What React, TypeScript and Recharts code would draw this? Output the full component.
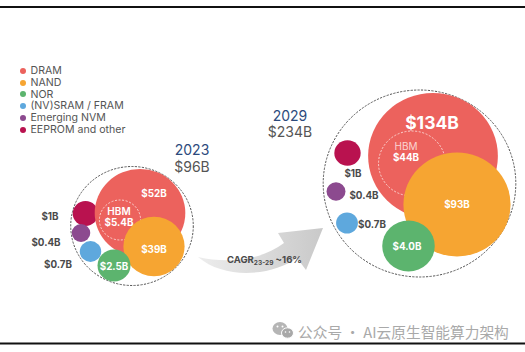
import React from "react";
import { ScatterChart, Scatter, XAxis, YAxis, ZAxis, Legend, ReferenceLine, Customized } from "recharts";

const WIDTH = 525;
const HEIGHT = 352;
const FONT = "Inter, 'Open Sans', sans-serif";

// Categories and values ($B): [2023, 2029]
const categories = ["DRAM", "NAND", "NOR", "(NV)SRAM / FRAM", "Emerging NVM", "EEPROM and other"];
const years = ["2023", "2029"];
const totals = ["$96B", "$234B"];
const dramValues = [52, 134];
const nandValues = [39, 93];
const norValues = [2.5, 4.0];
const sramValues = [0.7, 0.7];
const emergingValues = [0.4, 0.4];
const eepromValues = [1, 1];
const hbmValues = [5.4, 44];
const cagrLabel = "CAGR";
const cagrPeriod = "23-29";
const cagrValue = " ~16%";
const watermark = "公众号 · AI云原生智能算力架构";

// Colours
const colors = ["#ec625d", "#f6a532", "#5cb46e", "#5ea8dd", "#8c4a8f", "#b9124f"];

// Bubble-pack layout, in chart units, kept apart from the values: [x, y, bubble radius] per year
const outerPack = [[132, 226, 59.5], [419.5, 183.5, 93.5]];
const dramPack = [[140, 213, 44], [433, 156, 63]];
const hbmPack = [[120, 220, 20], [412, 163.5, 32.5]];
const nandPack = [[154, 246.5, 29.7], [457, 204.5, 52]];
const norPack = [[114, 265.5, 16], [408.5, 246, 25.5]];
const sramPack = [[90.5, 251.5, 10.4], [347, 223, 10.6]];
const emergingPack = [[81, 233, 9], [336, 191.5, 9.2]];
const eepromPack = [[85.5, 213.5, 12.4], [347.5, 153, 12.8]];

const toPoints = (pack: number[][], values?: number[]) =>
  pack.map(([x, y, r], i) => ({ x, y, z: r * r, value: values ? values[i] : undefined }));

const money = (v: number, digits = 0) => `$${v.toFixed(digits)}B`;

// Label anchors
const labelPoints = (
  items: [string, number, number][]
) => items.map(([text, x, y]) => ({ x, y, z: 1, text }));

const whiteLabels = labelPoints([
  [money(dramValues[0]), 154, 193],
  [money(hbmValues[0], 1), 119, 222.5],
  [money(nandValues[0]), 154, 249],
  [money(norValues[0], 1), 114, 266],
  [money(hbmValues[1]), 406, 157.5],
  [money(nandValues[1]), 457, 204.5],
  [money(norValues[1], 1), 407, 246.5],
]);
const hbmWhite = labelPoints([["HBM", 119, 210.5]]);
const hbmSoft = labelPoints([["HBM", 406, 146]]);
const bigLabel = labelPoints([[money(dramValues[1]), 432, 122]]);
const darkLabels = labelPoints([
  [money(eepromValues[0]), 50, 216],
  [money(emergingValues[0], 1), 46, 242],
  [money(sramValues[0], 1), 58, 264],
  [money(eepromValues[1]), 353, 173],
  [money(emergingValues[1], 1), 364, 195],
  [money(sramValues[1], 1), 372, 224],
]);
const yearLabels = labelPoints([[years[0], 192, 149], [years[1], 290, 115]]);
const totalLabels = labelPoints([[totals[0], 192, 166], [totals[1], 290, 131]]);

// The reference is stretched horizontally a little: every bubble is 3% wider than tall.
const STRETCH = 1.03;
const bubble = (fill: string, stroke = "none", dash?: string, strokeWidth = 1) => (p: any) => (
  <ellipse
    cx={p.cx}
    cy={p.cy}
    rx={(p.width / 2) * STRETCH}
    ry={p.width / 2}
    fill={fill}
    stroke={stroke}
    strokeDasharray={dash}
    strokeWidth={strokeWidth}
  />
);

const textShape = (fill: string, size: number, weight: number) => (p: any) => (
  <text
    x={p.cx}
    y={p.cy}
    fill={fill}
    fontSize={size}
    fontWeight={weight}
    fontFamily={FONT}
    textAnchor="middle"
    dominantBaseline="central"
  >
    {p.payload.text}
  </text>
);

const Annotations = () => (
  <g>
    <defs>
      <linearGradient id="arrowFill" x1="0" y1="0" x2="1" y2="0">
        <stop offset="0%" stopColor="#ededed" />
        <stop offset="100%" stopColor="#c9c9c9" />
      </linearGradient>
    </defs>
    <path
      d="M198 257 C228 264 262 260 284 243 L278 233 L323 228 L306 270 L297 258 C272 276 225 280 198 257 Z"
      fill="url(#arrowFill)"
    />
    <text x={227} y={262.5} fontFamily={FONT} fontSize={9.5} fontWeight={700} fill="#4a4a4a">
      {cagrLabel}
      <tspan fontSize={6.5} dy={2}>{cagrPeriod}</tspan>
      <tspan dy={-2}>{cagrValue}</tspan>
    </text>
    <ellipse cx={280} cy={328.5} rx={7.5} ry={6.5} fill="#b5b5b5" />
    <circle cx={277.5} cy={326.5} r={1} fill="#fff" />
    <circle cx={282.5} cy={326.5} r={1} fill="#fff" />
    <ellipse cx={287.5} cy={333} rx={6} ry={5.2} fill="#a8a8a8" stroke="#fff" strokeWidth={1} />
    <circle cx={285.5} cy={332} r={0.8} fill="#fff" />
    <circle cx={289.5} cy={332} r={0.8} fill="#fff" />
    <text
      x={298}
      y={331}
      fontFamily="'Noto Sans CJK SC', sans-serif"
      fontSize={14.7}
      fill="#a9a9a9"
      dominantBaseline="central"
    >
      {watermark}
    </text>
  </g>
);

const LegendList = () => (
  <div style={{ fontFamily: FONT, fontSize: 10.6, color: "#555", lineHeight: "11.8px" }}>
    {categories.map((name, i) => (
      <div key={name} style={{ display: "flex", alignItems: "center", height: 11.8, whiteSpace: "nowrap" }}>
        <span
          style={{
            width: 6,
            height: 6,
            borderRadius: 3,
            background: colors[i],
            marginRight: 5,
            flex: "none",
          }}
        />
        {name}
      </div>
    ))}
  </div>
);

export default function App() {
  return (
    <div style={{ position: "absolute", left: 0, top: 0, width: WIDTH, height: HEIGHT, background: "#fff" }}>
      <ScatterChart width={WIDTH} height={HEIGHT} margin={{ top: 0, right: 0, bottom: 0, left: 0 }}>
        <XAxis type="number" dataKey="x" domain={[0, WIDTH]} hide />
        <YAxis type="number" dataKey="y" domain={[0, HEIGHT]} reversed hide />
        <ZAxis type="number" dataKey="z" domain={[0, 10000]} range={[0, 10000 * Math.PI]} />
        <Legend
          layout="vertical"
          align="center"
          verticalAlign="middle"
          content={<LegendList />}
          wrapperStyle={{ left: 19.5, top: 65, right: "auto", bottom: "auto", width: 130, margin: 0 }}
        />
        <ReferenceLine y={7} stroke="#111" strokeWidth={2} />
        <ReferenceLine y={343.5} stroke="#111" strokeWidth={2} />
        <Customized component={Annotations} />
        <Scatter name="outer" data={toPoints(outerPack)} shape={bubble("none", "#555", "2.2 1.3", 1)} legendType="none" isAnimationActive={false} />
        <Scatter name={categories[5]} data={toPoints(eepromPack, eepromValues)} shape={bubble(colors[5])} legendType="none" isAnimationActive={false} />
        <Scatter name={categories[4]} data={toPoints(emergingPack, emergingValues)} shape={bubble(colors[4])} legendType="none" isAnimationActive={false} />
        <Scatter name={categories[3]} data={toPoints(sramPack, sramValues)} shape={bubble(colors[3])} legendType="none" isAnimationActive={false} />
        <Scatter name={categories[0]} data={toPoints(dramPack, dramValues)} shape={bubble(colors[0])} legendType="none" isAnimationActive={false} />
        <Scatter name="HBM" data={toPoints(hbmPack, hbmValues)} shape={bubble("none", "#fbdcd9", "2 1.6", 0.9)} legendType="none" isAnimationActive={false} />
        <Scatter name={categories[1]} data={toPoints(nandPack, nandValues)} shape={bubble(colors[1])} legendType="none" isAnimationActive={false} />
        <Scatter name={categories[2]} data={toPoints(norPack, norValues)} shape={bubble(colors[2])} legendType="none" isAnimationActive={false} />
        <Scatter name="labels-white" data={whiteLabels} shape={textShape("#fff", 9.8, 700)} legendType="none" isAnimationActive={false} />
        <Scatter name="labels-hbm" data={hbmWhite} shape={textShape("#fff", 10, 600)} legendType="none" isAnimationActive={false} />
        <Scatter name="labels-hbm-soft" data={hbmSoft} shape={textShape("#fbd5d2", 10, 400)} legendType="none" isAnimationActive={false} />
        <Scatter name="labels-big" data={bigLabel} shape={textShape("#fff", 17.5, 700)} legendType="none" isAnimationActive={false} />
        <Scatter name="labels-dark" data={darkLabels} shape={textShape("#4a4a4a", 9.8, 700)} legendType="none" isAnimationActive={false} />
        <Scatter name="years" data={yearLabels} shape={textShape("#2c4a7c", 14, 400)} legendType="none" isAnimationActive={false} />
        <Scatter name="totals" data={totalLabels} shape={textShape("#555", 14, 400)} legendType="none" isAnimationActive={false} />
      </ScatterChart>
    </div>
  );
}
